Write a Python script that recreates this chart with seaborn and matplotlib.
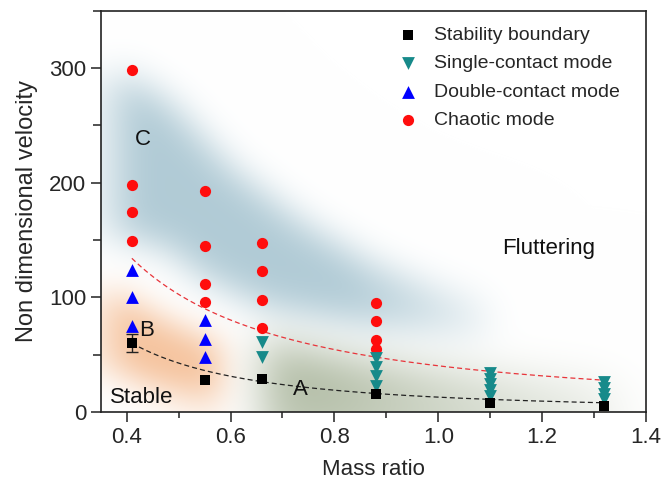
import numpy as np
import pandas as pd
import matplotlib
matplotlib.use("Agg")
import matplotlib.pyplot as plt
import seaborn as sns
from matplotlib.ticker import MultipleLocator

# ---- measured data -------------------------------------------------------
mass_boundary = [0.41, 0.55, 0.66, 0.88, 1.10, 1.32]
vel_boundary = [60, 28, 29, 16, 8, 5]
boundary_err = [8, 0, 0, 0, 0, 0]

mass_single = [0.66, 0.66, 0.88, 0.88, 0.88, 0.88,
               1.10, 1.10, 1.10, 1.10, 1.10,
               1.32, 1.32, 1.32, 1.32]
vel_single = [61, 48, 47, 39, 31, 23,
              34, 29, 24, 19, 14,
              26, 21, 16, 11]

mass_double = [0.41, 0.41, 0.41, 0.55, 0.55, 0.55]
vel_double = [124, 100, 75, 80, 64, 48]

mass_chaotic = [0.41, 0.41, 0.41, 0.41, 0.55, 0.55, 0.55, 0.55,
                0.66, 0.66, 0.66, 0.66, 0.88, 0.88, 0.88, 0.88]
vel_chaotic = [298, 198, 174, 149, 193, 145, 112, 96,
               147, 123, 98, 73, 95, 79, 63, 55]

# power-law fits  v = a * m**b
fit_chaotic = (40.3, -1.348)
fit_boundary = (12.95, -1.72)

mode_labels = ["Stability boundary", "Single-contact mode",
               "Double-contact mode", "Chaotic mode"]

# ---- figure --------------------------------------------------------------
sns.set_theme(style="ticks")
plt.rcParams["font.family"] = ["Liberation Sans", "DejaVu Sans"]

fig = plt.figure(figsize=(6.61, 4.84), dpi=100)
ax = fig.add_axes([100.7 / 661, 1 - 412 / 484, 545.3 / 661, 401.3 / 484])
XMIN, XMAX, YMIN, YMAX = 0.35, 1.4, 0, 350
ax.set_xlim(XMIN, XMAX)
ax.set_ylim(YMIN, YMAX)

# ---- soft shaded regime areas -------------------------------------------
nx, ny = 546, 402
gx = np.linspace(XMIN, XMAX, nx)
gy = np.linspace(YMAX, YMIN, ny)
X, Y = np.meshgrid(gx, gy)


def blur(m, sigma):
    def kern(n):
        i = np.arange(n)
        k = np.exp(-0.5 * ((i[:, None] - i[None, :]) / sigma) ** 2)
        return k / k.sum(axis=1, keepdims=True)
    return kern(m.shape[0]) @ m @ kern(m.shape[1]).T


# blue-grey band (chaotic region C)
up_x = [0.36, 0.48, 0.60, 0.735, 0.864, 0.99, 1.09, 1.15]
up_y = [305, 270, 212, 165, 130, 108, 95, 90]
lo_x = [0.36, 0.48, 0.54, 0.67, 0.88, 1.05, 1.15]
lo_y = [155, 142, 118, 90, 74, 66, 62]
blue = ((Y <= np.interp(X, up_x, up_y)) & (Y >= np.interp(X, lo_x, lo_y))
        & (X >= 0.38) & (X <= 1.10)).astype(float)
blue *= np.clip((1.12 - X) / 0.3, 0, 1) ** 0.6
blue = blur(blue, 18)

# orange blob (region B)
bx = np.linspace(0.35, 0.65, 50)
bc = fit_boundary[0] * bx ** fit_boundary[1]
orange = ((Y <= np.interp(X, bx, bc + 40 - (bx - 0.35) * 60))
          & (Y >= np.interp(X, bx, bc - 35 + (bx - 0.35) * 60))
          & (X >= 0.37) & (X <= 0.58)).astype(float)
orange = blur(orange, 16)

# olive-grey area (region A)
rc = fit_chaotic[0] * np.clip(X, 0.3, None) ** fit_chaotic[1]
green = ((Y <= rc - 5) & (Y >= 3) & (X >= 0.66) & (X <= 1.34)).astype(float)
green *= np.clip(1.0 - (X - 0.8) / 0.8, 0.3, 1)
green = blur(green, 22)

img = np.ones((ny, nx, 3))
for layer, col, amax in [(green, (0.50, 0.57, 0.42), 0.62),
                         (orange, (0.94, 0.62, 0.38), 0.62),
                         (blue, (0.64, 0.76, 0.81), 0.85)]:
    a = (np.clip(layer, 0, 1) * amax)[..., None]
    img = img * (1 - a) + np.array(col) * a
ax.imshow(img, extent=[XMIN, XMAX, YMIN, YMAX], aspect="auto",
          interpolation="bilinear", zorder=0)

# ---- fit curves ----------------------------------------------------------
xf = np.linspace(0.41, 1.32, 200)
ax.plot(xf, fit_chaotic[0] * xf ** fit_chaotic[1], ls=(0, (4, 2.5)),
        color="#e8343a", lw=0.9, zorder=2)
ax.plot(xf, fit_boundary[0] * xf ** fit_boundary[1], ls=(0, (4, 2.5)),
        color="#222222", lw=0.9, zorder=2)

# ---- data points ---------------------------------------------------------
df = pd.concat([
    pd.DataFrame({"mass": mass_boundary, "vel": vel_boundary, "mode": mode_labels[0]}),
    pd.DataFrame({"mass": mass_single, "vel": vel_single, "mode": mode_labels[1]}),
    pd.DataFrame({"mass": mass_double, "vel": vel_double, "mode": mode_labels[2]}),
    pd.DataFrame({"mass": mass_chaotic, "vel": vel_chaotic, "mode": mode_labels[3]}),
], ignore_index=True)

palette = dict(zip(mode_labels, ["#000000", "#178a8a", "#0000ff", "#ff0d0d"]))
markers = dict(zip(mode_labels, ["s", "v", "^", "o"]))
sizes = dict(zip(mode_labels, [55, 85, 85, 65]))

ax.errorbar(mass_boundary[:1], vel_boundary[:1], yerr=boundary_err[:1],
            fmt="none", ecolor="#222222", elinewidth=1, capsize=4, zorder=3)
for mode in [mode_labels[3], mode_labels[2], mode_labels[1], mode_labels[0]]:
    sub = df[df["mode"] == mode]
    sns.scatterplot(data=sub, x="mass", y="vel", ax=ax, color=palette[mode],
                    marker=markers[mode], s=sizes[mode], linewidth=0,
                    label=mode, zorder=4)

handles, labels = ax.get_legend_handles_labels()
order = [labels.index(m) for m in mode_labels]
ax.legend([handles[i] for i in order], [labels[i] for i in order],
          loc="upper left", bbox_to_anchor=(0.507, 0.99), frameon=False,
          fontsize=14, handletextpad=0.3, labelspacing=0.56,
          markerscale=1.0, borderaxespad=0.2)

# ---- annotations ---------------------------------------------------------
txt = dict(fontsize=16, color="#111111", zorder=5)
ax.text(0.431, 238, "C", ha="center", va="center", **txt)
ax.text(0.439, 71, "B", ha="center", va="center", **txt)
ax.text(0.368, 13, "Stable", ha="left", va="center", **txt)
ax.text(0.734, 20, "A", ha="center", va="center", **txt)
ax.text(1.123, 143, "Fluttering", ha="left", va="center", **txt)

# ---- axes styling --------------------------------------------------------
ax.set_xlabel("Mass ratio", fontsize=16, labelpad=8)
ax.set_ylabel("Non dimensional velocity", fontsize=17, labelpad=8)
ax.xaxis.set_minor_locator(MultipleLocator(0.1))
ax.yaxis.set_major_locator(MultipleLocator(100))
ax.yaxis.set_minor_locator(MultipleLocator(50))
ax.set_xticks(np.arange(0.4, 1.41, 0.2))
ax.set_xticklabels([f"{v:.1f}" for v in np.arange(0.4, 1.41, 0.2)])
ax.tick_params(which="major", direction="out", length=7, width=1.1,
               labelsize=16, color="#222222")
ax.tick_params(which="minor", direction="out", length=4, width=1.1,
               color="#222222")
ax.tick_params(axis="y", which="minor", length=6)
for sp in ax.spines.values():
    sp.set_visible(True)
    sp.set_linewidth(1.2)
    sp.set_color("#222222")

fig.savefig("out.png", dpi=100)
